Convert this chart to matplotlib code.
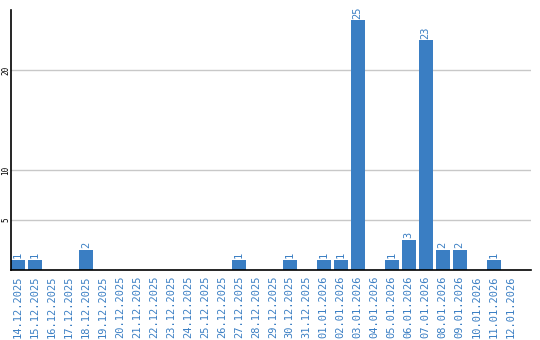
import matplotlib
matplotlib.use('Agg')
import matplotlib.pyplot as plt

dates = ['14.12.2025', '15.12.2025', '16.12.2025', '17.12.2025', '18.12.2025',
         '19.12.2025', '20.12.2025', '21.12.2025', '22.12.2025', '23.12.2025',
         '24.12.2025', '25.12.2025', '26.12.2025', '27.12.2025', '28.12.2025',
         '29.12.2025', '30.12.2025', '31.12.2025', '01.01.2026', '02.01.2026',
         '03.01.2026', '04.01.2026', '05.01.2026', '06.01.2026', '07.01.2026',
         '08.01.2026', '09.01.2026', '10.01.2026', '11.01.2026', '12.01.2026']
counts = [1, 1, 0, 0, 2, 0, 0, 0, 0, 0,
          0, 0, 0, 1, 0, 0, 1, 0, 1, 1,
          25, 0, 1, 3, 23, 2, 2, 0, 1, 0]
yticks = [5, 10, 20]

blue = '#3a7ec3'

fig = plt.figure(figsize=(5.4, 3.4), dpi=100)
ax = fig.add_axes([11/540, 70/340, 520/540, 260/340])

x = list(range(len(dates)))
ax.bar(x, counts, width=0.82, color=blue, zorder=2)
for xi, c in zip(x, counts):
    if c > 0:
        ax.text(xi, c + 0.15, str(c), rotation=90, ha='center', va='bottom',
                color=blue, fontsize=7.5, family='DejaVu Sans Mono')

ax.set_xlim(-0.41, 30.2)
ax.set_ylim(0, 26)
ax.set_yticks(yticks)
ax.set_yticklabels([str(t) for t in yticks], rotation=90, va='center',
                   fontsize=5.5, family='DejaVu Sans Mono')
ax.set_xticks(x)
ax.set_xticklabels(dates, rotation=90, color=blue, fontsize=7.5,
                   family='DejaVu Sans Mono')
ax.tick_params(length=0, pad=4)
ax.tick_params(axis='y', pad=0.5)
ax.grid(axis='y', color='#c8c8c8', linewidth=1, zorder=0)
ax.spines['top'].set_visible(False)
ax.spines['right'].set_visible(False)
ax.spines['left'].set_linewidth(1.2)
ax.spines['bottom'].set_linewidth(1.2)
ax.spines['left'].set_zorder(3)
ax.spines['bottom'].set_zorder(3)

fig.savefig('out.png', dpi=100)
